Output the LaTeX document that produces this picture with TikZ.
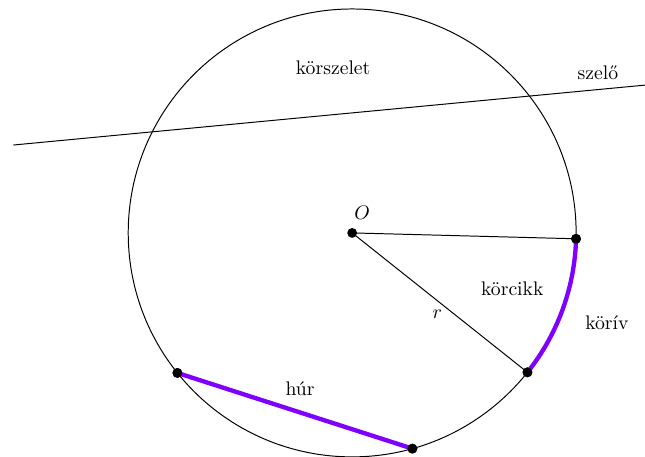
\documentclass[tikz,border=0pt]{standalone}
\usepackage{tikz}
\usepackage{xcolor}
\usetikzlibrary{calc}
\definecolor{ArcViolet}{HTML}{8000FF}
\tikzset{
  dot/.style={circle, fill=black, inner sep=0pt, minimum size=5pt},
  label/.style={inner sep=1pt},
  thin line/.style={draw=black, line width=0.5pt},
  hl/.style={draw=ArcViolet, line width=2.2pt}
}

\begin{document}
\begin{tikzpicture}
    \useasboundingbox (-6.29,-4.0) rectangle (5.23,4.16);
    \draw[thin line] (0,0) circle[radius=4];

    % secant
    \coordinate (s1) at (-6.05,1.57);
    \coordinate (s2) at (5.23,2.64);
    \draw[thin line] (s1) -- (s2);

    % points on the circle
    \node[dot] (O) at (0,0) {};
    \node[dot] (A) at (-1.5:4) {};
    \node[dot] (B) at (-38.5:4) {};
    \node[dot] (C) at (218.7:4) {};
    \node[dot] (D) at (-74.4:4) {};

    \draw[thin line] (O.center) -- (A.center);
    \draw[thin line] (O.center) -- (B.center);
    \draw[hl] (A.center) arc[start angle=-1.5, end angle=-38.5, radius=4];
    \draw[hl] (C.center) -- (D.center);
    \node[dot] at (A) {};
    \node[dot] at (B) {};
    \node[dot] at (C) {};
    \node[dot] at (D) {};

    % labels
    \node[label] (lszelet) at (-0.34,2.95) {körszelet};
    \node[label] (lszelo) at (4.39,2.86) {szelő};
    \node[label] (lO) at (0.18,0.36) {$O$};
    \node[label] (lcikk) at (2.86,-1.0) {körcikk};
    \node[label] (lr) at (1.52,-1.45) {$r$};
    \node[label] (liv) at (4.55,-1.61) {körív};
    \node[label] (lhur) at (-0.93,-2.79) {húr};
\end{tikzpicture}
\end{document}
